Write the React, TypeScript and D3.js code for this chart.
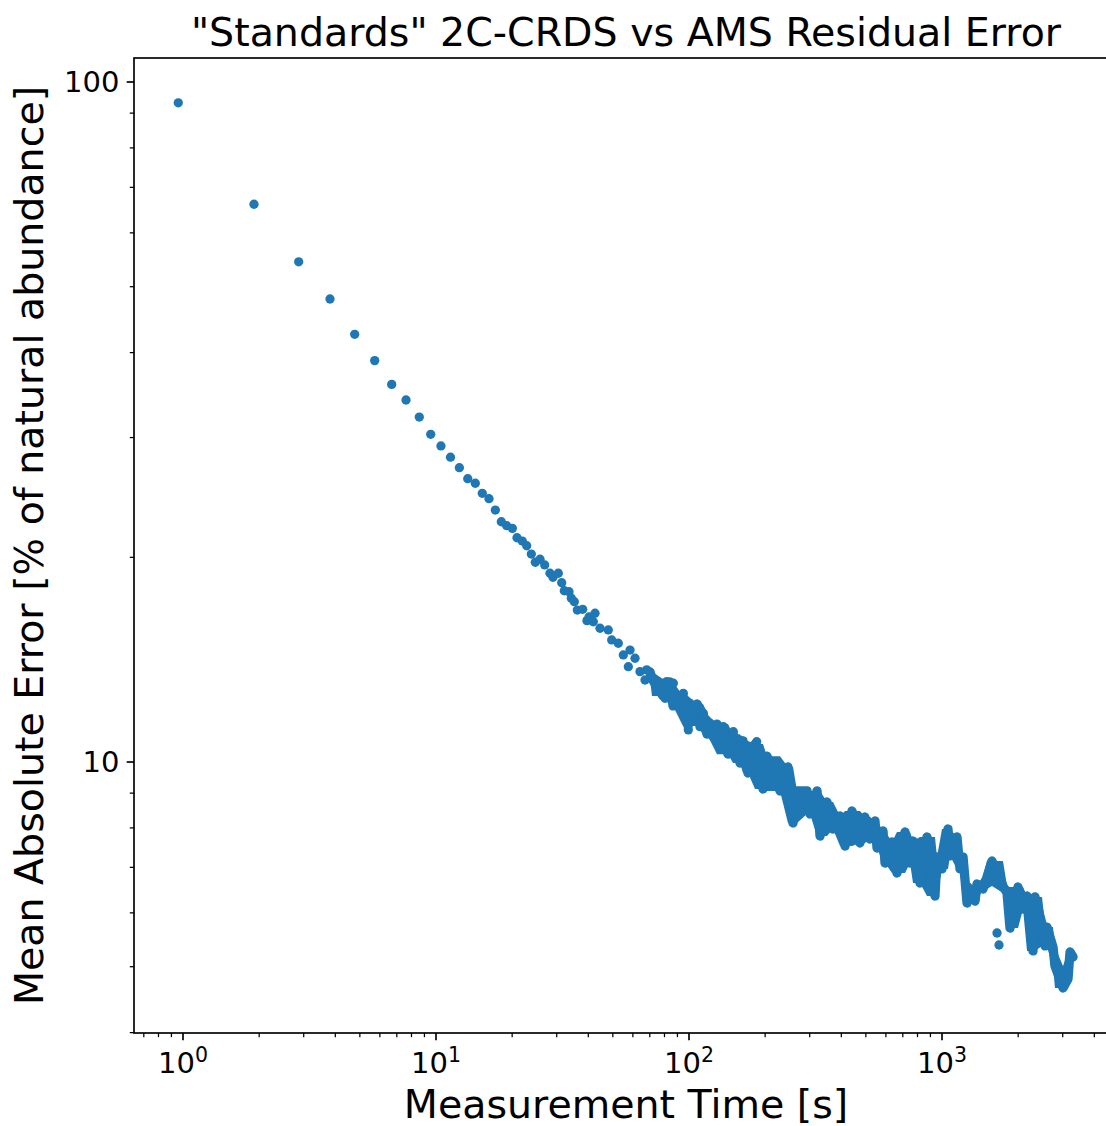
import React from "react";
import * as d3 from "d3";

// Individually visible points (measurement time [s], mean absolute error [%])
const dotTime = [0.958,1.908,2.866,3.811,4.771,5.724,6.682,7.612,8.590,9.530,10.46,11.41,12.37,13.35,14.30,15.24,16.20,17.16,18.12,19.03,20.03,20.90,21.93,22.83,23.81,24.69,25.77,26.89,28.22,29.01,30.44,31.40,32.15,33.56,34.27,35.21,36.19,38.00,39.52,40.25,42.51,41.86,44.49,47.97,49.48,52.55,55.00,58.47,61.18,57.57,64.03,68.05,67.00,72.25,76.79,81.66,86.70,80.41,94.96,90.73,100.9,104.0,113.9,99.4,110.5,121.1,124.8,136.7,149.7,141.0,159.1,169.1,185.2,1650,1680];
const dotError = [93.2,66.1,54.4,47.96,42.56,38.93,35.92,34.07,32.16,30.33,29.16,28.07,27.09,26.10,25.70,24.84,24.39,23.47,22.56,22.26,22.06,21.37,21.13,20.80,20.22,19.67,19.87,19.49,18.95,18.69,18.95,18.35,17.86,17.80,17.41,17.21,16.73,16.77,16.14,16.34,16.55,16.08,15.73,15.64,15.12,14.95,14.37,14.61,14.21,13.81,13.58,13.66,13.20,13.28,12.90,13.13,13.06,12.41,12.62,12.06,12.20,11.66,11.79,11.15,11.27,11.40,10.89,11.27,11.08,10.53,10.77,10.53,10.71,5.605,5.382];

// Dense part: successive extremes of the overlapping point trace
const traceTime = [70.11,71.40,78.92,84.13,86.46,94.68,99.1,107.6,113.6,117.8,129.0,142.6,149.3,159.1,163.5,171.1,182.4,196.1,203.4,228.9,246.2,257.7,267.3,292.7,300.8,320.6,329.5,351.2,370.9,395.3,413.7,440.9,474.2,496.3,519.4,543.5,553.5,584.6,595.3,634.5,663.9,714.3,747.5,768.2,818.6,872.4,938.2,955.5,1000,1056,1076,1146,1178,1211,1256,1267,1351,1375,1452,1506,1576,1742,1807,1857,1998,2091,2168,2289,2331,2485,2554,2601,2746,2796,3008,3148,3206,3295];
const traceError = [13.57,13.25,12.51,13.12,12.09,12.51,11.30,12.17,11.77,10.99,11.37,10.27,10.99,9.966,10.74,9.634,10.63,9.127,10.20,9.066,9.832,8.135,9.066,9.066,8.386,9.066,7.784,8.735,7.971,8.329,7.525,8.472,7.602,8.301,7.706,8.189,7.474,7.917,7.104,7.627,6.868,7.890,7.104,7.653,6.639,7.758,6.353,7.250,6.962,7.971,7.275,7.758,6.962,7.250,6.204,6.550,6.246,6.616,6.505,6.774,7.152,6.572,6.418,5.700,6.550,6.079,6.353,5.274,6.331,5.778,5.364,5.719,5.346,5.012,4.653,4.796,5.256,5.168];

const xMajor = [1, 10, 100, 1000];
const xMajorExp = ["0", "1", "2", "3"];
const yMajor = [10, 100];
const yMajorLabels = ["10", "100"];

const W = 1106;
const H = 1126;
const L = 134, R = 1118, T = 58, B = 1033;
const COLOR = "#1f77b4";
const FONT = "DejaVu Sans, sans-serif";

export default function App() {
  const x = d3.scaleLog().domain([Math.pow(10, -0.19368), Math.pow(10, 3.69565)]).range([L, R]);
  const y = d3.scaleLog().domain([Math.pow(10, 0.6015), Math.pow(10, 2.0353)]).range([B, T]);

  const [x0, x1] = x.domain();
  const [y0, y1] = y.domain();
  const xMinor: number[] = [];
  for (let e = -1; e <= 4; e++) {
    for (let m = 2; m <= 9; m++) {
      const v = m * Math.pow(10, e);
      if (v >= x0 && v <= x1) xMinor.push(v);
    }
  }
  const yMinor: number[] = [];
  for (let e = 0; e <= 2; e++) {
    for (let m = 2; m <= 9; m++) {
      const v = m * Math.pow(10, e);
      if (v >= y0 && v <= y1) yMinor.push(v);
    }
  }

  const n = traceTime.length;
  const neighbours = (i: number) =>
    [traceError[Math.max(0, i - 1)], traceError[i], traceError[Math.min(n - 1, i + 1)]];

  const line = d3
    .line<number>()
    .x((_, i) => x(traceTime[i]))
    .y((_, i) => y(traceError[i]));
  const tracePath = line(traceTime) || "";

  const area = d3
    .area<number>()
    .x((_, i) => x(traceTime[i]))
    .y0((_, i) => y(d3.min(neighbours(i)) as number))
    .y1((_, i) => y(d3.max(neighbours(i)) as number));
  const bandPath = area(traceTime) || "";

  const cx = (L + R) / 2;
  const cy = (T + B) / 2;

  return (
    <svg
      width={W}
      height={H}
      style={{ position: "absolute", left: 0, top: 0, background: "#fff" }}
      fontFamily={FONT}
    >
      <rect x={0} y={0} width={W} height={H} fill="#fff" />
      <defs>
        <clipPath id="plotclip">
          <rect x={L} y={T} width={R - L} height={B - T} />
        </clipPath>
      </defs>
      <g clipPath="url(#plotclip)">
        <path d={bandPath} fill={COLOR} stroke="none" />
        <path
          d={tracePath}
          fill="none"
          stroke={COLOR}
          strokeWidth={9.3}
          strokeLinecap="round"
          strokeLinejoin="round"
        />
        {dotTime.map((t, i) => (
          <circle key={i} cx={x(t)} cy={y(dotError[i])} r={4.65} fill={COLOR} />
        ))}
      </g>
      {/* spines */}
      <rect x={L} y={T} width={R - L} height={B - T} fill="none" stroke="#000" strokeWidth={1.67} />
      {/* x ticks */}
      {xMinor.map((v, i) => (
        <line key={"xm" + i} x1={x(v)} x2={x(v)} y1={B} y2={B + 4.2} stroke="#000" strokeWidth={1.25} />
      ))}
      {xMajor.map((v, i) => (
        <g key={"xM" + i}>
          <line x1={x(v)} x2={x(v)} y1={B} y2={B + 7.3} stroke="#000" strokeWidth={1.67} />
          <text x={x(v)} y={1073} textAnchor="middle" fontSize={29} fill="#000">
            10
            <tspan dy={-11} fontSize={20.5}>{xMajorExp[i]}</tspan>
          </text>
        </g>
      ))}
      {/* y ticks */}
      {yMinor.map((v, i) => (
        <line key={"ym" + i} x1={L - 4.2} x2={L} y1={y(v)} y2={y(v)} stroke="#000" strokeWidth={1.25} />
      ))}
      {yMajor.map((v, i) => (
        <g key={"yM" + i}>
          <line x1={L - 7.3} x2={L} y1={y(v)} y2={y(v)} stroke="#000" strokeWidth={1.67} />
          <text x={L - 7.3 - 7.3} y={y(v)} dy="0.36em" textAnchor="end" fontSize={29} fill="#000">
            {yMajorLabels[i]}
          </text>
        </g>
      ))}
      {/* labels */}
      <text x={cx} y={45.5} textAnchor="middle" fontSize={39.5} fill="#000">
        "Standards" 2C-CRDS vs AMS Residual Error
      </text>
      <text x={cx} y={1118} textAnchor="middle" fontSize={39.5} fill="#000">
        Measurement Time [s]
      </text>
      <text
        transform={`translate(43,${cy}) rotate(-90)`}
        textAnchor="middle"
        fontSize={39.5}
        fill="#000"
      >
        Mean Absolute Error [% of natural abundance]
      </text>
    </svg>
  );
}
